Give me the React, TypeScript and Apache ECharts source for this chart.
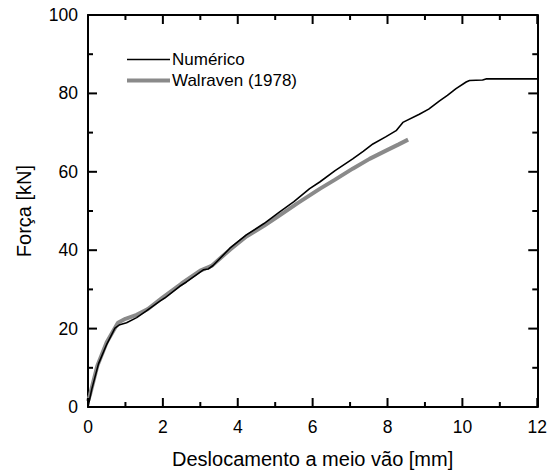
import React, { useEffect, useRef } from "react";
import * as echarts from "echarts";

const xTicks = [0, 2, 4, 6, 8, 10, 12];
const yTicks = [0, 20, 40, 60, 80, 100];

const numX = [0, 0.1, 0.28, 0.5, 0.72, 0.85, 1.03, 1.3, 1.56, 1.92, 2.05, 2.45, 2.63, 3.08, 3.21, 3.34, 3.79, 4.23, 4.7, 5.12, 5.5, 5.92, 6.19, 6.6, 7.07, 7.35, 7.61, 7.95, 8.23, 8.41, 8.85, 9.1, 9.39, 9.6, 9.83, 10.1, 10.19, 10.54, 10.63, 12];
const numY = [0, 4.5, 11, 16, 20.1, 21.0, 21.5, 22.8, 24.5, 27.0, 27.8, 30.8, 31.9, 35.0, 35.2, 36.1, 40.5, 43.9, 46.8, 49.8, 52.4, 55.7, 57.4, 60.3, 63.3, 65.2, 67.1, 68.9, 70.5, 72.6, 74.7, 76.0, 78.1, 79.5, 81.2, 82.9, 83.3, 83.4, 83.7, 83.7];

const walX = [0, 0.05, 0.25, 0.5, 0.8, 1.0, 1.3, 1.6, 2.0, 2.5, 3.0, 3.3, 3.8, 4.23, 4.7, 5.12, 5.6, 6.2, 6.6, 7.07, 7.52, 7.96, 8.3, 8.55];
const walY = [1.5, 3, 10.5, 16.5, 21.5, 22.5, 23.5, 25.0, 28.0, 31.5, 34.8, 36.0, 40.2, 43.5, 46.2, 48.9, 52.0, 55.7, 58.0, 60.8, 63.3, 65.4, 67.0, 68.2];

const seriesNames = ["Numérico", "Walraven (1978)"];
const xTitle = "Deslocamento a meio vão [mm]";
const yTitle = "Força [kN]";

export default function App() {
  const ref = useRef<HTMLDivElement>(null);
  useEffect(() => {
    if (!ref.current) return;
    const chart = echarts.init(ref.current, null, { renderer: "svg" });
    const font = "'Liberation Sans', Arial, sans-serif";
    const axisLine = () => ({ show: true, onZero: false, lineStyle: { color: "#000", width: 2 } });
    const xMin = xTicks[0], xMax = xTicks[xTicks.length - 1], xInt = xTicks[1] - xTicks[0];
    const yMin = yTicks[0], yMax = yTicks[yTicks.length - 1], yInt = yTicks[1] - yTicks[0];
    const xMinor = xTicks.slice(1).map((t, i) => (t + xTicks[i]) / 2);
    const yMinor = yTicks.slice(1).map((t, i) => (t + yTicks[i]) / 2);
    const legendX = 127, legendY = 59.5, legendGap = 21, legendLen = 43;
    const legendGraphic: any[] = [
      { type: "line", z: 10, shape: { x1: legendX, y1: legendY, x2: legendX + legendLen, y2: legendY }, style: { stroke: "#000", lineWidth: 1.6 } },
      { type: "text", z: 10, x: legendX + legendLen + 2, y: legendY, style: { text: seriesNames[0], fontSize: 17, fill: "#000", fontFamily: font, verticalAlign: "middle" } },
      { type: "line", z: 10, shape: { x1: legendX, y1: legendY + legendGap, x2: legendX + legendLen, y2: legendY + legendGap }, style: { stroke: "#8a8a8a", lineWidth: 4 } },
      { type: "text", z: 10, x: legendX + legendLen + 2, y: legendY + legendGap, style: { text: seriesNames[1], fontSize: 17, fill: "#000", fontFamily: font, verticalAlign: "middle" } },
    ];
    chart.setOption({
      animation: false,
      backgroundColor: "#fff",
      textStyle: { fontFamily: font },
      grid: { left: 88, right: 12, top: 15, bottom: 64, containLabel: false },
      graphic: legendGraphic,
      xAxis: [
        {
          type: "value", min: xMin, max: xMax, interval: xInt, position: "bottom",
          name: xTitle, nameLocation: "middle", nameGap: 42,
          nameTextStyle: { fontSize: 20, color: "#000", fontFamily: font },
          axisLine: axisLine(), axisTick: { show: false }, splitLine: { show: false },
          axisLabel: { fontSize: 17.5, color: "#000", margin: 11, fontFamily: font },
        },
        {
          type: "value", min: xMin, max: xMax, interval: xInt, position: "top",
          axisLine: axisLine(), axisTick: { show: false }, splitLine: { show: false },
          axisLabel: { show: false },
        },
      ],
      yAxis: [
        {
          type: "value", min: yMin, max: yMax, interval: yInt, position: "left",
          name: yTitle, nameLocation: "middle", nameGap: 54,
          nameTextStyle: { fontSize: 20, color: "#000", fontFamily: font },
          axisLine: axisLine(), axisTick: { show: false }, splitLine: { show: false },
          axisLabel: { fontSize: 17.5, color: "#000", margin: 10, fontFamily: font },
        },
        {
          type: "value", min: yMin, max: yMax, interval: yInt, position: "right",
          axisLine: axisLine(), axisTick: { show: false }, splitLine: { show: false },
          axisLabel: { show: false },
        },
      ],
      series: [
        {
          name: seriesNames[1],
          type: "line",
          data: walX.map((x, i) => [x, walY[i]]),
          showSymbol: false,
          symbol: "none",
          lineStyle: { color: "#8a8a8a", width: 4 },
          itemStyle: { color: "#8a8a8a" },
          z: 2,
        },
        {
          name: seriesNames[0],
          type: "line",
          data: numX.map((x, i) => [x, numY[i]]),
          showSymbol: false,
          symbol: "none",
          lineStyle: { color: "#000", width: 1.6 },
          itemStyle: { color: "#000" },
          z: 3,
        },
      ],
    });
    try {
      const tickGraphic: any[] = [];
      const st = { stroke: "#000", lineWidth: 2 };
      const px = (p: number[]) => chart.convertToPixel({ gridIndex: 0 }, p) as any;
      const addX = (v: number, len: number) => {
        const b = px([v, yMin]);
        const t = px([v, yMax]);
        if (!b || !t) return;
        tickGraphic.push({ type: "line", z: 20, shape: { x1: b[0], y1: b[1], x2: b[0], y2: b[1] - len }, style: st });
        tickGraphic.push({ type: "line", z: 20, shape: { x1: t[0], y1: t[1], x2: t[0], y2: t[1] + len }, style: st });
      };
      const addY = (v: number, len: number) => {
        const l = px([xMin, v]);
        const r = px([xMax, v]);
        if (!l || !r) return;
        tickGraphic.push({ type: "line", z: 20, shape: { x1: l[0], y1: l[1], x2: l[0] + len, y2: l[1] }, style: st });
        tickGraphic.push({ type: "line", z: 20, shape: { x1: r[0], y1: r[1], x2: r[0] - len, y2: r[1] }, style: st });
      };
      xTicks.forEach((v) => addX(v, 9));
      xMinor.forEach((v) => addX(v, 5));
      yTicks.forEach((v) => addY(v, 9));
      yMinor.forEach((v) => addY(v, 5));
      if (tickGraphic.length) chart.setOption({ graphic: [...legendGraphic, ...tickGraphic] });
    } catch (e) {
      // keep chart without extra ticks
    }
    return () => chart.dispose();
  }, []);
  return <div ref={ref} style={{ width: 550, height: 474, position: "absolute", left: 0, top: 0 }} />;
}
